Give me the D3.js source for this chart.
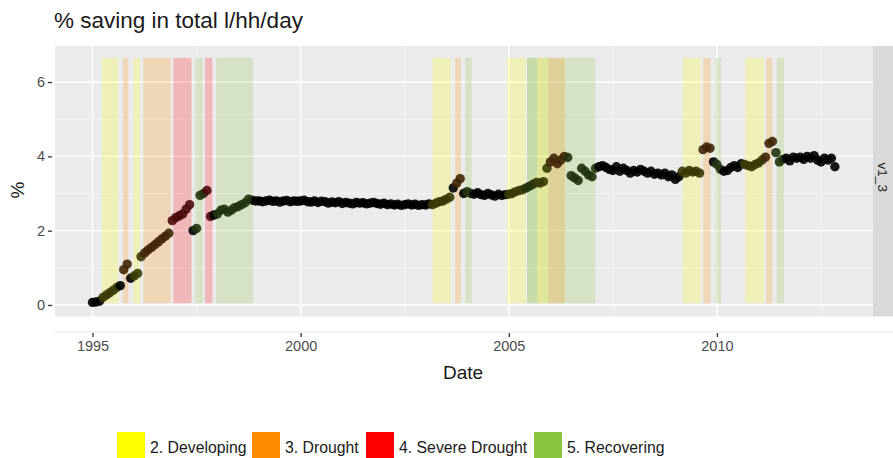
<!DOCTYPE html>
<html>
<head>
<meta charset="utf-8">
<script src="https://cdn.jsdelivr.net/npm/d3@7"></script>
<style>
  body { margin: 0; background: #fff; }
  text { font-family: "Liberation Sans", Arial, sans-serif; }
</style>
</head>
<body>
<svg id="chart" width="893" height="458"></svg>
<script>
// monthly % saving, one row per year (Jan..Dec), 2012 ends in Nov
var years = [1995, 1996, 1997, 1998, 1999, 2000, 2001, 2002, 2003, 2004, 2005, 2006, 2007, 2008, 2009, 2010, 2011, 2012];
var monthlySaving = [
  [0.07, 0.08, 0.10, 0.20, 0.27, 0.33, 0.40, 0.47, 0.52, 0.95, 1.10, 0.72],
  [0.78, 0.85, 1.30, 1.40, 1.48, 1.55, 1.62, 1.70, 1.78, 1.85, 1.93, 2.27],
  [2.35, 2.40, 2.45, 2.58, 2.70, 2.00, 2.06, 2.95, 3.00, 3.08, 2.38, 2.42],
  [2.45, 2.55, 2.58, 2.50, 2.55, 2.62, 2.65, 2.70, 2.75, 2.85, 2.82, 2.80],
  [2.80, 2.78, 2.80, 2.82, 2.79, 2.80, 2.77, 2.80, 2.81, 2.78, 2.80, 2.79],
  [2.80, 2.82, 2.78, 2.77, 2.80, 2.76, 2.79, 2.78, 2.74, 2.77, 2.75, 2.78],
  [2.73, 2.76, 2.74, 2.72, 2.76, 2.74, 2.75, 2.72, 2.74, 2.76, 2.73, 2.71],
  [2.74, 2.70, 2.72, 2.69, 2.71, 2.68, 2.70, 2.72, 2.69, 2.71, 2.68, 2.70],
  [2.69, 2.72, 2.70, 2.74, 2.78, 2.80, 2.85, 2.90, 3.15, 3.28, 3.40, 3.00],
  [3.05, 3.00, 2.98, 3.02, 2.97, 2.95, 3.00, 2.96, 2.93, 2.98, 2.95, 2.97],
  [2.98, 3.00, 3.05, 3.08, 3.10, 3.15, 3.20, 3.25, 3.30, 3.28, 3.32, 3.68],
  [3.85, 3.95, 3.80, 3.90, 4.00, 3.97, 3.48, 3.42, 3.35, 3.68, 3.60, 3.50],
  [3.45, 3.68, 3.72, 3.75, 3.70, 3.65, 3.62, 3.72, 3.60, 3.68, 3.62, 3.55],
  [3.62, 3.58, 3.65, 3.60, 3.55, 3.60, 3.52, 3.55, 3.50, 3.55, 3.45, 3.50],
  [3.38, 3.45, 3.60, 3.55, 3.62, 3.58, 3.60, 3.55, 4.18, 4.25, 4.22, 3.85],
  [3.78, 3.65, 3.60, 3.62, 3.70, 3.75, 3.70, 3.80, 3.78, 3.75, 3.72, 3.78],
  [3.82, 3.90, 3.98, 4.35, 4.40, 4.10, 3.85, 3.92, 3.95, 3.88, 3.98, 3.95],
  [3.98, 3.92, 4.00, 3.95, 4.02, 3.90, 3.85, 3.95, 3.90, 3.95, 3.72]
];

// drought state periods (decimal years)
var periodStart = [1995.22, 1995.73, 1995.98, 1996.22, 1996.94, 1997.46, 1997.70, 1997.97,
                   2003.17, 2003.71, 2003.95, 2004.96, 2005.44, 2005.44, 2005.68, 2005.95,
                   2009.18, 2009.67, 2009.96, 2010.68, 2011.18, 2011.43];
var periodEnd   = [1995.62, 1995.86, 1996.14, 1996.88, 1997.38, 1997.65, 1997.88, 1998.86,
                   2003.61, 2003.85, 2004.11, 2005.41, 2007.08, 2005.68, 2005.95, 2006.35,
                   2009.61, 2009.85, 2010.10, 2011.13, 2011.33, 2011.61];
var periodState = [2, 3, 2, 3, 4, 5, 4, 5,
                   2, 3, 5, 2, 5, 5, 2, 3,
                   2, 3, 5, 2, 3, 5];

var stateLabels = ["2. Developing", "3. Drought", "4. Severe Drought", "5. Recovering"];
var stateCodes = [2, 3, 4, 5];
var stateColors = ["#ffff00", "#ff8c00", "#ff0000", "#8cc63f"];
var pointColors = ["#3a3a06", "#402608", "#4d0c0c", "#22330f"];

var xTicks = [1995, 2000, 2005, 2010];
var yTicks = [0, 2, 4, 6];

var svg = d3.select("#chart");
var panel = {left: 55, right: 873, top: 46, bottom: 316.5};

var x = d3.scaleLinear().domain([1994.099, 2013.749]).range([panel.left, panel.right]);
var y = d3.scaleLinear().domain([-0.31, 6.97]).range([panel.bottom, panel.top]);
var fill = d3.scaleOrdinal().domain(stateCodes).range(stateColors);
var dotFill = d3.scaleOrdinal().domain(stateCodes).range(pointColors);

var points = [];
years.forEach(function(yr, i) {
  monthlySaving[i].forEach(function(v, m) {
    points.push({date: yr + m / 12, value: v});
  });
});
var periods = periodStart.map(function(s, i) {
  return {start: s, end: periodEnd[i], state: periodState[i]};
});

function stateOf(d) {
  var st = 0;
  periods.forEach(function(p) {
    if (d.date >= p.start - 0.03 && d.date <= p.end + 0.03) st = p.state;
  });
  return st;
}

// faint line under the panel (as in the original)
svg.append("line")
  .attr("x1", panel.left).attr("x2", 893)
  .attr("y1", 332).attr("y2", 332)
  .attr("stroke", "#eeeeee").attr("stroke-width", 1.5);

// panel
svg.append("rect")
  .attr("x", panel.left).attr("y", panel.top)
  .attr("width", panel.right - panel.left).attr("height", panel.bottom - panel.top)
  .attr("fill", "#ebebeb");

var grid = svg.append("g");
grid.selectAll("line.ymin")
  .data([1, 3, 5])
  .enter().append("line")
    .attr("x1", panel.left).attr("x2", panel.right)
    .attr("y1", d => y(d)).attr("y2", d => y(d))
    .attr("stroke", "#f7f7f7").attr("stroke-width", 0.7);
grid.selectAll("line.xmin")
  .data([1997.5, 2002.5, 2007.5, 2012.5])
  .enter().append("line")
    .attr("y1", panel.top).attr("y2", panel.bottom)
    .attr("x1", d => x(d)).attr("x2", d => x(d))
    .attr("stroke", "#f7f7f7").attr("stroke-width", 0.7);
grid.selectAll("line.ymaj")
  .data(yTicks)
  .enter().append("line")
    .attr("x1", panel.left).attr("x2", panel.right)
    .attr("y1", d => y(d)).attr("y2", d => y(d))
    .attr("stroke", "#ffffff").attr("stroke-width", 1.4);
grid.selectAll("line.xmaj")
  .data(xTicks)
  .enter().append("line")
    .attr("y1", panel.top).attr("y2", panel.bottom)
    .attr("x1", d => x(d)).attr("x2", d => x(d))
    .attr("stroke", "#ffffff").attr("stroke-width", 1.4);

// drought shading
svg.append("g")
  .selectAll("rect")
  .data(periods)
  .enter().append("rect")
    .attr("x", d => x(d.start))
    .attr("width", d => x(d.end) - x(d.start))
    .attr("y", y(6.65))
    .attr("height", y(0.05) - y(6.65))
    .attr("fill", d => fill(d.state))
    .attr("fill-opacity", 0.22);

// points
svg.append("g")
  .selectAll("circle")
  .data(points)
  .enter().append("circle")
    .attr("cx", d => x(d.date))
    .attr("cy", d => y(d.value))
    .attr("r", 4.7)
    .attr("fill", d => { var s = stateOf(d); return s ? dotFill(s) : "#000"; })
    .attr("fill-opacity", 0.9);

// facet strip
svg.append("rect")
  .attr("x", panel.right).attr("y", panel.top)
  .attr("width", 893 - panel.right).attr("height", panel.bottom - panel.top)
  .attr("fill", "#d9d9d9");
svg.append("text")
  .attr("transform", "translate(" + (panel.right + 5) + "," + ((panel.top + panel.bottom) / 2 - 4) + ") rotate(90)")
  .attr("text-anchor", "middle")
  .attr("font-size", 13.5)
  .attr("fill", "#1a1a1a")
  .text("v1_3");

// axes
var xAxis = svg.append("g")
  .attr("transform", "translate(0," + 333 + ")")
  .call(d3.axisBottom(x).tickValues(xTicks).tickFormat(d3.format("d")).tickSize(4).tickPadding(4));
var yAxis = svg.append("g")
  .attr("transform", "translate(" + 52 + ",0)")
  .call(d3.axisLeft(y).tickValues(yTicks).tickSize(4).tickPadding(3));
[xAxis, yAxis].forEach(function(a) {
  a.select(".domain").remove();
  a.selectAll(".tick line").attr("stroke", "#333").attr("stroke-width", 1.3);
  a.selectAll(".tick text").attr("fill", "#4d4d4d").attr("font-size", 14.5)
    .attr("font-family", "'Liberation Sans', Arial, sans-serif");
});

// titles
svg.append("text")
  .attr("x", 54).attr("y", 28)
  .attr("font-size", 22.5)
  .attr("fill", "#1a1a1a")
  .text("% saving in total l/hh/day");
svg.append("text")
  .attr("x", 463).attr("y", 379)
  .attr("text-anchor", "middle")
  .attr("font-size", 19)
  .attr("fill", "#1a1a1a")
  .text("Date");
svg.append("text")
  .attr("transform", "translate(24,190) rotate(-90)")
  .attr("text-anchor", "middle")
  .attr("font-size", 19)
  .attr("fill", "#1a1a1a")
  .text("%");

// legend
var legendX = [117, 252, 366, 534];
var legend = svg.append("g");
stateLabels.forEach(function(lab, i) {
  legend.append("rect")
    .attr("x", legendX[i]).attr("y", 432)
    .attr("width", 28).attr("height", 30)
    .attr("fill", stateColors[i]);
  legend.append("text")
    .attr("x", legendX[i] + 33).attr("y", 453)
    .attr("font-size", 15.8)
    .attr("fill", "#1a1a1a")
    .text(lab);
});
</script>
</body>
</html>
